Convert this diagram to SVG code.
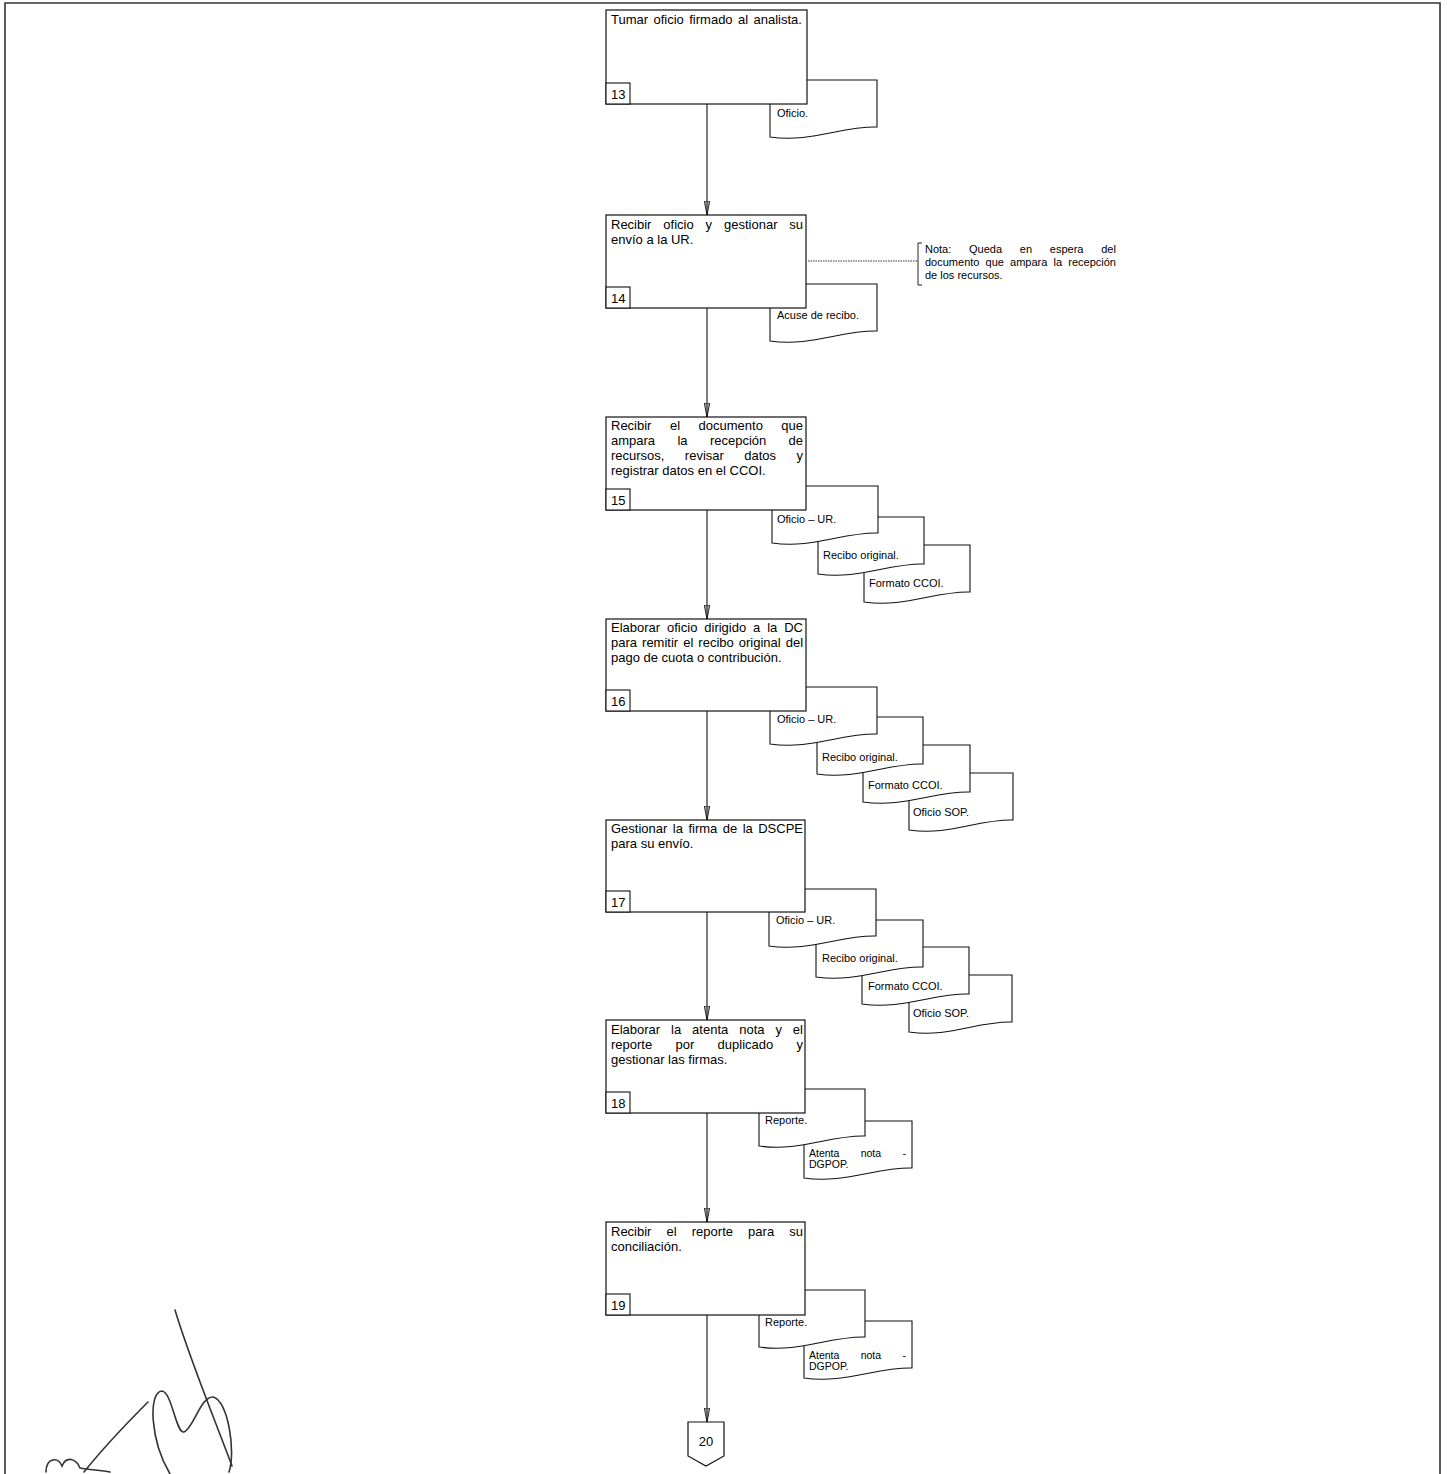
<svg xmlns="http://www.w3.org/2000/svg" width="1447" height="1474" viewBox="0 0 1447 1474">
<style>
text{font-family:"Liberation Sans",Arial,sans-serif;fill:#000}
.t{font-size:13px}
.d{font-size:11px}
.s{font-size:10.5px}
.n{font-size:11px}
.box{fill:#fff;stroke:#111;stroke-width:1.2}
.num{fill:#fff;stroke:#111;stroke-width:1.1}
.doc{fill:#fff;stroke:#111;stroke-width:1.1}
.con{stroke:#111;stroke-width:1.1;fill:none}
.frame{stroke:#333;fill:none}
.sig{fill:none;stroke:#333;stroke-width:1.6;stroke-linecap:round}
</style>
<defs>
<marker id="ah" markerUnits="userSpaceOnUse" viewBox="0 0 14 6" markerWidth="14" markerHeight="6" refX="14" refY="3" orient="auto">
<path d="M0,0.3 L14,3 L0,5.7 Z" fill="#bbb" stroke="#111" stroke-width="0.9"/>
<path d="M0,3 H14" stroke="#111" stroke-width="0.9"/>
</marker>
</defs>
<rect width="1447" height="1474" fill="#fff"/>
<g id="frame">
<path class="frame" stroke-width="1.6" d="M5,1474 V3 H1440 V1474"/>
</g>

<g id="connectors">
<path class="con" marker-end="url(#ah)" d="M707,104 V215"/>
<path class="con" marker-end="url(#ah)" d="M707,308 V417"/>
<path class="con" marker-end="url(#ah)" d="M707,510 V619"/>
<path class="con" marker-end="url(#ah)" d="M707,711 V820"/>
<path class="con" marker-end="url(#ah)" d="M707,912 V1020"/>
<path class="con" marker-end="url(#ah)" d="M707,1113 V1222"/>
<path class="con" marker-end="url(#ah)" d="M707,1315 V1422"/>
</g>

<g id="n13">
<path class="doc" d="M770,80 H877 V127 C842,126 810,143 770,137 Z"/>
<text class="d" x="777" y="117">Oficio.</text>
<rect class="box" x="606" y="10" width="201" height="94"/>
<text class="t" x="611" y="24" word-spacing="1.8">Tumar oficio firmado al analista.</text>
<rect class="num" x="606" y="83" width="24" height="21"/>
<text class="t" x="611" y="99">13</text>
</g>

<g id="n14">
<path class="doc" d="M770,284 H877 V331 C842,330 810,347 770,341 Z"/>
<text class="d" x="777" y="319">Acuse de recibo.</text>
<rect class="box" x="606" y="215" width="200" height="93"/>
<text class="t" x="611" y="229" word-spacing="8.28">Recibir oficio y gestionar su</text>
<text class="t" x="611" y="244">envío a la UR.</text>
<rect class="num" x="606" y="287" width="24" height="21"/>
<text class="t" x="611" y="303">14</text>
</g>

<g id="note14">
<path d="M808,261 H918" stroke="#333" stroke-width="1" stroke-dasharray="1.5,1" fill="none"/>
<path d="M922,243 H918 V285 H922" stroke="#222" stroke-width="1" fill="none"/>
<text class="n" x="925" y="253" word-spacing="14.7">Nota: Queda en espera del</text>
<text class="n" x="925" y="266" word-spacing="3.1">documento que ampara la recepción</text>
<text class="n" x="925" y="279">de los recursos.</text>
</g>

<g id="n15">
<path class="doc" d="M864,545 H970 V592 C935,591 904,608 864,602 Z"/>
<text class="d" x="869" y="587">Formato CCOI.</text>
<path class="doc" d="M818,517 H924 V564 C889,563 858,580 818,574 Z"/>
<text class="d" x="823" y="559">Recibo original.</text>
<path class="doc" d="M772,486 H878 V533 C843,532 812,549 772,543 Z"/>
<text class="d" x="777" y="523">Oficio – UR.</text>
<rect class="box" x="606" y="417" width="200" height="93"/>
<text class="t" x="611" y="430" word-spacing="14.87">Recibir el documento que</text>
<text class="t" x="611" y="445" word-spacing="18.73">ampara la recepción de</text>
<text class="t" x="611" y="460" word-spacing="16.8">recursos, revisar datos y</text>
<text class="t" x="611" y="475">registrar datos en el CCOI.</text>
<rect class="num" x="606" y="489" width="24" height="21"/>
<text class="t" x="611" y="505">15</text>
</g>

<g id="n16">
<path class="doc" d="M909,773 H1013 V820 C978,819 949,836 909,830 Z"/>
<text class="d" x="913" y="816">Oficio SOP.</text>
<path class="doc" d="M863,745 H970 V792 C935,791 903,808 863,802 Z"/>
<text class="d" x="868" y="789">Formato CCOI.</text>
<path class="doc" d="M817,717 H923 V764 C888,763 857,780 817,774 Z"/>
<text class="d" x="822" y="761">Recibo original.</text>
<path class="doc" d="M770,687 H877 V734 C842,733 810,750 770,744 Z"/>
<text class="d" x="777" y="723">Oficio – UR.</text>
<rect class="box" x="606" y="619" width="200" height="92"/>
<text class="t" x="611" y="632" word-spacing="3.28">Elaborar oficio dirigido a la DC</text>
<text class="t" x="611" y="647" word-spacing="1.42">para remitir el recibo original del</text>
<text class="t" x="611" y="662">pago de cuota o contribución.</text>
<rect class="num" x="606" y="690" width="24" height="21"/>
<text class="t" x="611" y="706">16</text>
</g>

<g id="n17">
<path class="doc" d="M909,975 H1012 V1022 C977,1021 949,1038 909,1032 Z"/>
<text class="d" x="913" y="1017">Oficio SOP.</text>
<path class="doc" d="M862,947 H969 V994 C934,993 902,1010 862,1004 Z"/>
<text class="d" x="868" y="990">Formato CCOI.</text>
<path class="doc" d="M816,920 H923 V967 C888,966 856,983 816,977 Z"/>
<text class="d" x="822" y="962">Recibo original.</text>
<path class="doc" d="M769,889 H876 V936 C841,935 809,952 769,946 Z"/>
<text class="d" x="776" y="924">Oficio – UR.</text>
<rect class="box" x="606" y="820" width="199" height="92"/>
<text class="t" x="611" y="833" word-spacing="1.84">Gestionar la firma de la DSCPE</text>
<text class="t" x="611" y="848">para su envío.</text>
<rect class="num" x="606" y="891" width="24" height="21"/>
<text class="t" x="611" y="907">17</text>
</g>

<g id="n18">
<path class="doc" d="M804,1121 H912 V1168 C877,1167 844,1184 804,1178 Z"/>
<text class="s" x="809" y="1157" word-spacing="18.4">Atenta nota -</text>
<text class="s" x="809" y="1168">DGPOP.</text>
<path class="doc" d="M759,1089 H865 V1136 C830,1135 799,1152 759,1146 Z"/>
<text class="d" x="765" y="1124">Reporte.</text>
<rect class="box" x="606" y="1020" width="199" height="93"/>
<text class="t" x="611" y="1034" word-spacing="7.32">Elaborar la atenta nota y el</text>
<text class="t" x="611" y="1049" word-spacing="19.68">reporte por duplicado y</text>
<text class="t" x="611" y="1064">gestionar las firmas.</text>
<rect class="num" x="606" y="1092" width="24" height="21"/>
<text class="t" x="611" y="1108">18</text>
</g>

<g id="n19">
<path class="doc" d="M804,1321 H912 V1368 C877,1367 844,1384 804,1378 Z"/>
<text class="s" x="809" y="1359" word-spacing="18.4">Atenta nota -</text>
<text class="s" x="809" y="1370">DGPOP.</text>
<path class="doc" d="M759,1290 H865 V1337 C830,1336 799,1353 759,1347 Z"/>
<text class="d" x="765" y="1326">Reporte.</text>
<rect class="box" x="606" y="1222" width="199" height="93"/>
<text class="t" x="611" y="1236" word-spacing="11.5">Recibir el reporte para su</text>
<text class="t" x="611" y="1251">conciliación.</text>
<rect class="num" x="606" y="1294" width="24" height="21"/>
<text class="t" x="611" y="1310">19</text>
</g>

<g id="n20">
<path class="box" d="M688,1422 H724 V1456 L706,1466 L688,1456 Z"/>
<text class="t" x="706" y="1446" text-anchor="middle" font-size="12">20</text>
</g>

<g id="signature">
<path class="sig" d="M175,1310 C190,1360 215,1420 232,1466"/>
<path class="sig" d="M170,1474 C150,1440 148,1392 162,1391 C172,1392 176,1434 184,1432 C193,1429 201,1396 213,1397 C228,1400 236,1452 229,1472"/>
<path class="sig" d="M148,1402 C125,1425 100,1452 84,1472"/>
<path class="sig" d="M46,1472 C46,1458 58,1456 62,1466 C66,1456 76,1458 80,1468 C90,1470 100,1470 110,1472"/>
</g>
</svg>
